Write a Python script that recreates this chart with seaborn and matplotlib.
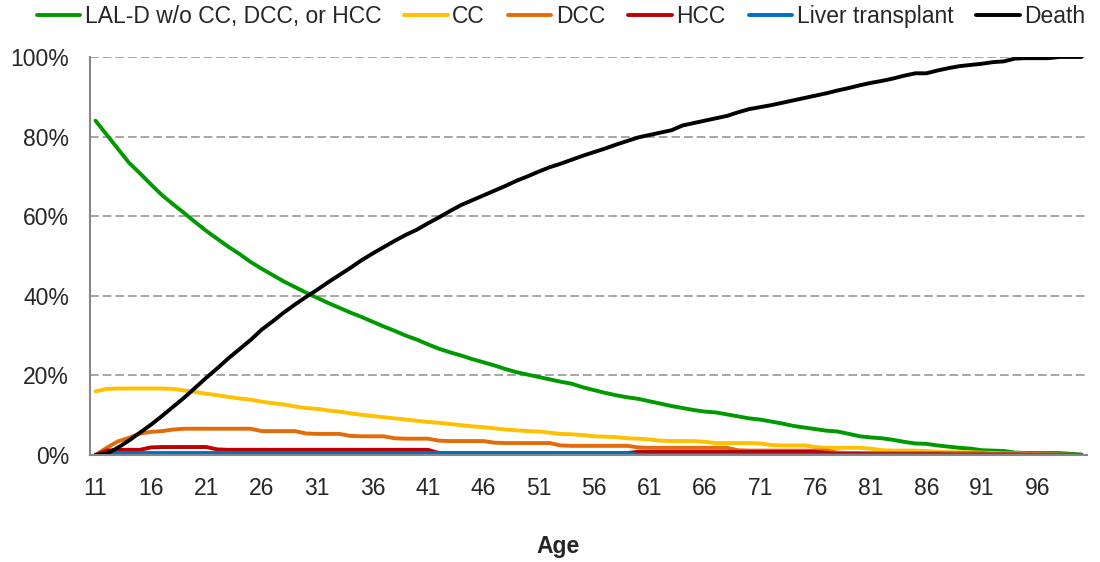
import numpy as np
import pandas as pd
import matplotlib
matplotlib.use("Agg")
import matplotlib.pyplot as plt
import seaborn as sns
from matplotlib.ticker import FixedLocator, FuncFormatter

# -----------------------------
# DATA (percent of cohort by age)
# -----------------------------
ages = list(range(11, 101))

lald = [84, 80.5, 77, 73.5, 70.8, 68, 65.3, 63, 60.8, 58.5,
        56.3, 54.3, 52.3, 50.5, 48.5, 46.8, 45.2, 43.6, 42.2, 40.8,
        39.5, 38.2, 37, 35.8, 34.7, 33.5, 32.3, 31.2, 30, 29,
        27.8, 26.7, 25.8, 25, 24.1, 23.3, 22.5, 21.6, 20.8, 20.2,
        19.6, 19, 18.4, 17.9, 17, 16.3, 15.6, 15, 14.5, 14.1,
        13.5, 12.9, 12.3, 11.8, 11.3, 10.9, 10.7, 10.2, 9.7, 9.2,
        8.9, 8.4, 7.9, 7.3, 6.9, 6.5, 6.1, 5.9, 5.3, 4.7,
        4.4, 4.2, 3.8, 3.3, 2.9, 2.8, 2.4, 2.1, 1.8, 1.6,
        1.2, 1.1, 1.0, 0.6, 0.5, 0.5, 0.5, 0.5, 0.3, 0.1]

cc = [16, 16.6, 16.7, 16.7, 16.7, 16.7, 16.7, 16.6, 16.2, 15.8,
      15.4, 15, 14.6, 14.2, 13.9, 13.4, 13, 12.7, 12.2, 11.8,
      11.6, 11.2, 10.9, 10.5, 10.1, 9.8, 9.5, 9.2, 8.9, 8.6,
      8.3, 8.1, 7.8, 7.5, 7.2, 7, 6.7, 6.4, 6.2, 6,
      5.9, 5.6, 5.3, 5.2, 5, 4.7, 4.6, 4.5, 4.2, 4.1,
      3.9, 3.6, 3.5, 3.5, 3.5, 3.3, 3.0, 3, 3, 3,
      2.9, 2.5, 2.4, 2.4, 2.4, 2, 1.8, 1.8, 1.8, 1.8,
      1.6, 1.2, 1.1, 1.1, 1.1, 1.0, 0.8, 0.7, 0.7, 0.7,
      0.6, 0.5, 0.4, 0.4, 0.3, 0.2, 0.1, 0.1, 0, 0]

dcc = [0, 1.8, 3.4, 4.3, 5.4, 5.8, 6, 6.4, 6.6, 6.6,
       6.6, 6.6, 6.6, 6.6, 6.6, 6.0, 6, 6, 6, 5.4,
       5.3, 5.3, 5.3, 4.8, 4.7, 4.7, 4.7, 4.2, 4.1, 4.1,
       4.1, 3.6, 3.5, 3.5, 3.5, 3.5, 3.1, 3, 3, 3,
       3, 3, 2.4, 2.3, 2.3, 2.3, 2.3, 2.3, 2.3, 1.9,
       1.8, 1.8, 1.8, 1.8, 1.8, 1.8, 1.8, 1.8, 1.2, 1.1,
       1.1, 1.1, 1.1, 1.1, 1.1, 1.1, 1.1, 0.6, 0.5, 0.5,
       0.5, 0.5, 0.5, 0.5, 0.5, 0.5, 0.5, 0.5, 0.5, 0.5,
       0.5, 0.3, 0.3, 0.3, 0.3, 0.2, 0.2, 0.1, 0.1, 0]

hcc = [0, 1.1, 1.3, 1.3, 1.3, 1.9, 2, 2, 2, 2,
       2, 1.4, 1.3, 1.3, 1.3, 1.3, 1.3, 1.3, 1.3, 1.3,
       1.3, 1.3, 1.3, 1.3, 1.3, 1.3, 1.3, 1.3, 1.3, 1.3,
       1.3, 0.5, 0.5, 0.5, 0.5, 0.5, 0.5, 0.5, 0.5, 0.5,
       0.5, 0.5, 0.5, 0.5, 0.5, 0.5, 0.5, 0.5, 0.5, 0.8,
       0.8, 0.8, 0.8, 0.8, 0.8, 0.8, 0.8, 0.8, 0.8, 0.8,
       0.8, 0.8, 0.8, 0.8, 0.8, 0.8, 0.5, 0.3, 0.3, 0.3,
       0.2, 0.2, 0.2, 0.2, 0.2, 0.2, 0.2, 0.1, 0.1, 0.1,
       0.1, 0.1, 0.1, 0.1, 0, 0, 0, 0, 0, 0]

transplant = [0, 0.3] + [0.5] * 47 + [0.05] * 41

death = [0, 0.3, 1.8, 3.6, 5.6, 7.6, 9.8, 12.1, 14.4, 16.9,
         19.4, 21.8, 24.3, 26.6, 28.9, 31.5, 33.6, 35.8, 37.8, 39.7,
         41.5, 43.4, 45.2, 47, 48.9, 50.6, 52.2, 53.8, 55.3, 56.6,
         58.2, 59.7, 61.3, 62.8, 64, 65.2, 66.4, 67.6, 68.9, 70,
         71.2, 72.3, 73.2, 74.2, 75.2, 76.1, 77, 78, 78.9, 79.8,
         80.4, 81, 81.6, 82.8, 83.4, 84, 84.6, 85.2, 86.1, 86.9,
         87.4, 87.9, 88.5, 89.1, 89.7, 90.3, 90.9, 91.6, 92.2, 92.9,
         93.5, 94, 94.6, 95.3, 95.9, 95.9, 96.6, 97.2, 97.7, 98,
         98.3, 98.7, 98.9, 99.6, 99.7, 99.7, 99.7, 100, 100, 100]

series_names = ["LAL-D w/o CC, DCC, or HCC", "CC", "DCC", "HCC",
                "Liver transplant", "Death"]
series_values = [lald, cc, dcc, hcc, transplant, death]
colors = ["#009A00", "#FFC000", "#E36C0A", "#C00000", "#0070C0", "#000000"]

df = pd.concat(
    [pd.DataFrame({"Age": ages, "Value": v, "State": n})
     for n, v in zip(series_names, series_values)],
    ignore_index=True,
)

# -----------------------------
# PLOT
# -----------------------------
sns.set_style("white")
plt.rcParams["font.family"] = ["Liberation Sans", "DejaVu Sans"]
FS = 16.5

fig = plt.figure(figsize=(11, 5.62), dpi=100)
ax = fig.add_axes([0.0818, 0.1904, 0.9064, 0.7082])

sns.lineplot(
    data=df, x="Age", y="Value", hue="State",
    hue_order=series_names, palette=dict(zip(series_names, colors)),
    linewidth=2.8, ax=ax, legend=False,
)

ax.set_xlim(10.5, 100.5)
ax.set_ylim(0, 100)

# y axis
ax.set_yticks([0, 20, 40, 60, 80, 100])
ax.yaxis.set_major_formatter(FuncFormatter(lambda v, p: f"{int(v)}%"))
ax.yaxis.grid(True, linestyle=(0, (4.5, 2)), color="#A6A6A6", linewidth=1.4)
ax.set_axisbelow(True)

# x axis: labels every 5 years, tick marks between categories
ax.xaxis.set_major_locator(FixedLocator(ages[::5]))
ax.xaxis.set_minor_locator(FixedLocator(np.arange(10.5, 101, 5)))
ax.tick_params(axis="x", which="major", length=0, pad=16, labelsize=FS)
ax.tick_params(axis="x", which="minor", length=5, width=1.4,
               color="#868686", direction="out")
ax.tick_params(axis="y", which="major", length=5, width=1.4,
               color="#868686", direction="out", pad=10, labelsize=FS)
ax.xaxis.grid(False)

for side in ["top", "right"]:
    ax.spines[side].set_visible(False)
for side in ["left", "bottom"]:
    ax.spines[side].set_color("#868686")
    ax.spines[side].set_linewidth(1.5)

ax.set_xlabel("Age", fontweight="bold", fontsize=FS, labelpad=26)
ax.xaxis.set_label_coords(0.469, -0.2)
ax.set_ylabel("")

handles = [plt.Line2D([], [], color=c, linewidth=2.8) for c in colors]
fig.legend(handles, series_names, loc="upper center",
           bbox_to_anchor=(0.51, 1.027), ncol=6, frameon=False,
           fontsize=FS, handlelength=1.9, handletextpad=0.2,
           columnspacing=1.0)

plt.savefig("out.png", dpi=100)
